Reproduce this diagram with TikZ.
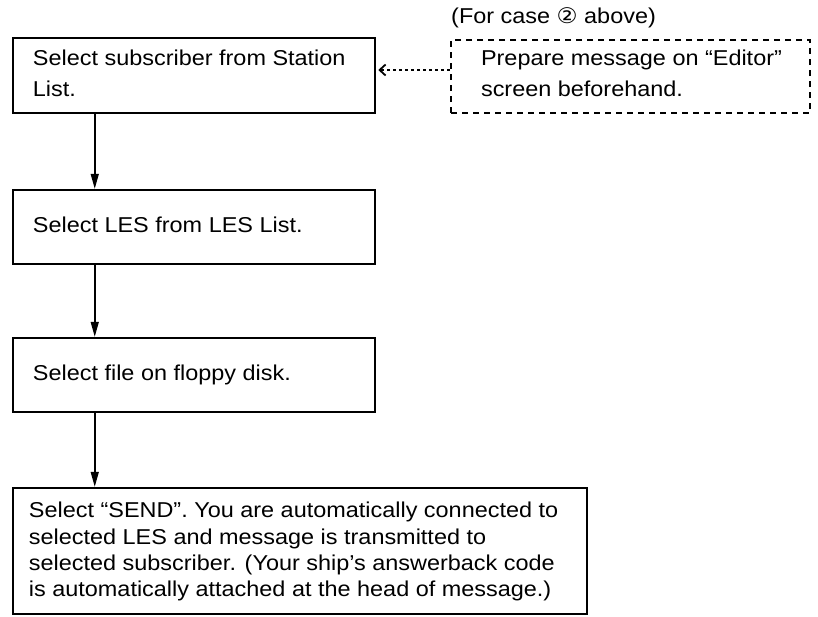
\documentclass[tikz,border=0pt]{standalone}
\usepackage{fontspec}
\setmainfont{Liberation Sans}[FakeStretch=1.09]
\newfontfamily\dejavu{DejaVu Sans}[FakeStretch=1.09]
\usetikzlibrary{arrows.meta,calc}
\newcommand\boxlines[2]{\parbox[t]{600pt}{\fontsize{21.5}{#1}\selectfont #2}}
\begin{document}
\begin{tikzpicture}[x=1pt,y=-1pt,
  every node/.style={font=\fontsize{21.5}{26}\selectfont},
  stepbox/.style={draw,line width=2.5pt,rectangle,inner sep=0pt},
  notebox/.style={draw,line width=2.3pt,dash pattern=on 6pt off 5pt,rectangle,inner sep=0pt},
  txt/.style={anchor=base west,inner sep=0pt},
  flow/.style={line width=1.5pt,-{Triangle[length=15pt,width=8pt]}},
  dotarrow/.style={line width=1.8pt,dash pattern=on 3pt off 3pt,-{Straight Barb[length=6pt,width=11pt,line width=1.8pt]}}
]
\useasboundingbox (0,0) rectangle (818,616);
\node[stepbox,minimum width=362pt,minimum height=75pt] (b1) at (194,75.5) {};
\node[stepbox,minimum width=362pt,minimum height=74pt] (b2) at (194,227) {};
\node[stepbox,minimum width=362pt,minimum height=74pt] (b3) at (194,375) {};
\node[stepbox,minimum width=574pt,minimum height=126pt] (b4) at (300,551) {};
\node[notebox,minimum width=359pt,minimum height=73pt] (d) at (630.5,76.5) {};
\node[txt] (t1) at ($(b1.north west)+(21,29)$) {\boxlines{31pt}{Select subscriber from Station\\List.}};
\node[txt] (t2) at ($(b2.north west)+(21,43.5)$) {Select LES from LES List.};
\node[txt] (t3) at ($(b3.north west)+(21,43.5)$) {Select file on floppy disk.};
\node[txt] (t4) at ($(b4.north west)+(17,31)$) {\boxlines{26.4pt}{Select “SEND”. You are automatically connected to\\selected LES and message is transmitted to\\selected subscriber. (Your ship’s answerback code\\is automatically attached at the head of message.)}};
\node[txt] (td) at ($(d.north west)+(31,27)$) {\boxlines{31pt}{Prepare message on “Editor”\\screen beforehand.}};
\node[txt] (cap) at (451,23) {(For case {\dejavu ②} above)};
\draw[flow] ($(b1.south west)+(83,0)$) -- ($(b2.north west)+(83,0)$);
\draw[flow] ($(b2.south west)+(83,0)$) -- ($(b3.north west)+(83,0)$);
\draw[flow] ($(b3.south west)+(83,0)$) -- ($(b4.north west)+(83,0)$);
\draw[dotarrow] ($(d.west)+(0,-6.5)$) -- ($(b1.east)+(2,-5.5)$);
\end{tikzpicture}
\end{document}
